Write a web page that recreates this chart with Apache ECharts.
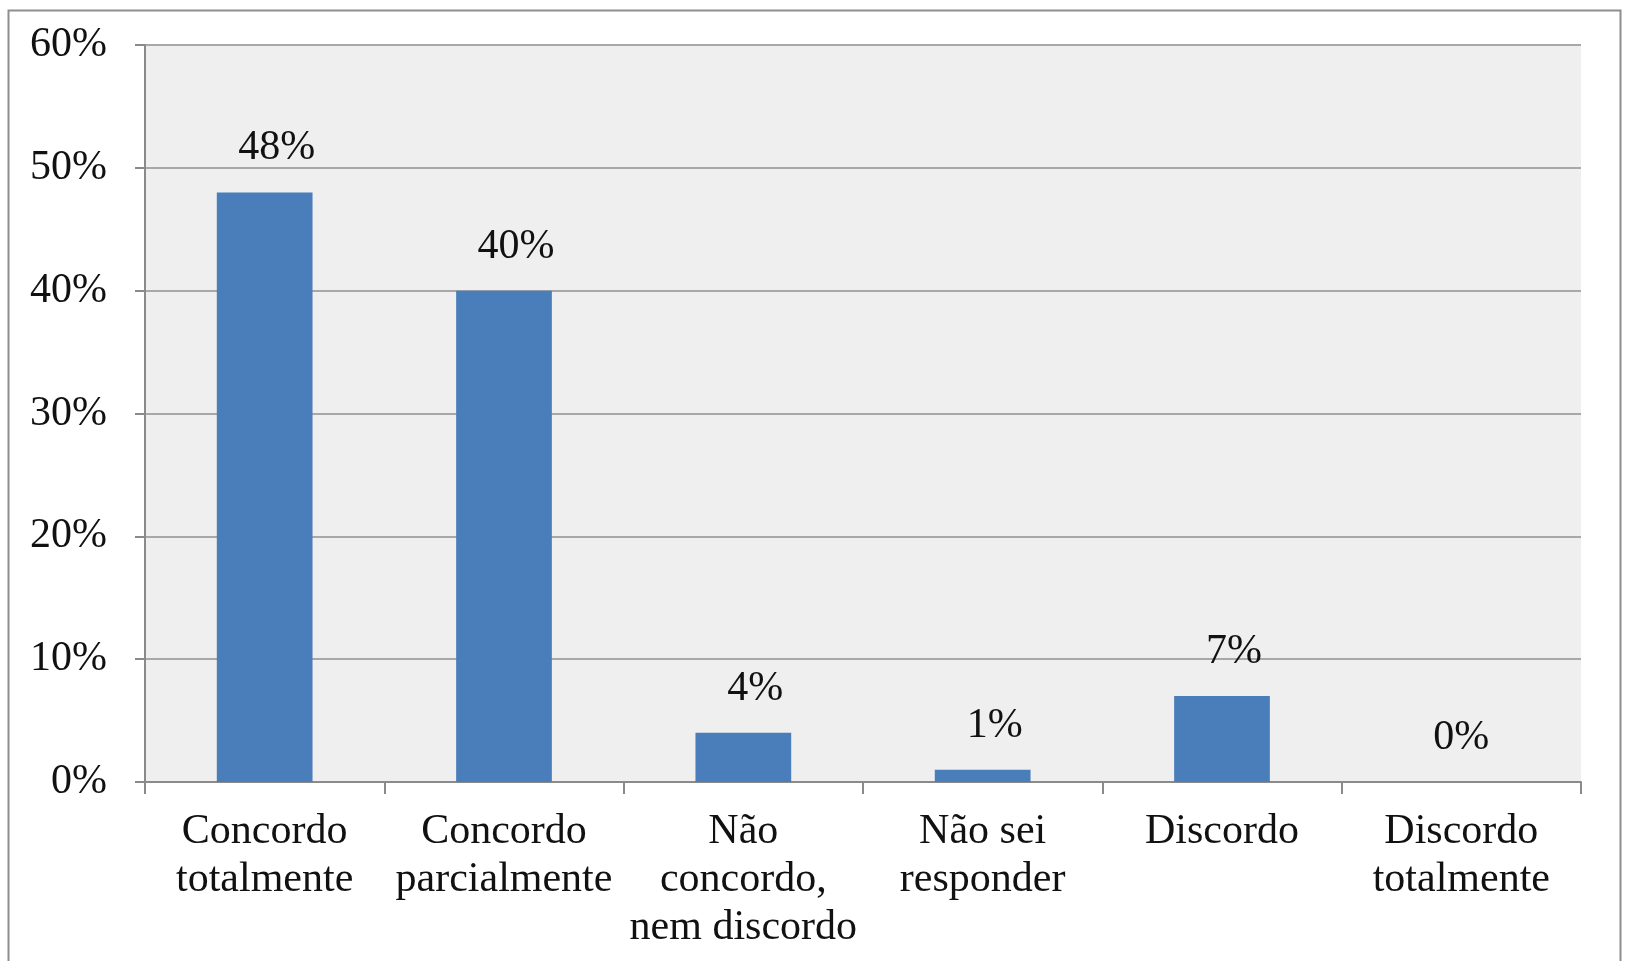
<!DOCTYPE html>
<html>
<head>
<meta charset="utf-8">
<title>Concordância</title>
<script src="https://cdn.jsdelivr.net/npm/echarts@6/dist/echarts.min.js"></script>
<style>
  html, body { margin: 0; padding: 0; background: #ffffff; }
  #chart { width: 1629px; height: 961px; }
</style>
</head>
<body>
<div id="chart"></div>
<script>
// Response categories (x axis)
const categories = [
  'Concordo\ntotalmente',
  'Concordo\nparcialmente',
  'Não\nconcordo,\nnem discordo',
  'Não sei\nresponder',
  'Discordo',
  'Discordo\ntotalmente'
];

// Share of answers, in percent
const percentages = [48, 40, 4, 1, 7, 0];

// Value axis range and step, in percent
const yMin = 0;
const yMax = 60;
const yStep = 10;

const FONT = '"Liberation Serif", "Times New Roman", serif';
const FONT_SIZE = 42;
const BAR_BLUE = '#4a7ebb';

// Value labels sit slightly right of the bar centre; the empty category keeps its label centred
const barData = percentages.map(v => (
  v === 0
    ? { value: v, label: { offset: [0, 0] } }
    : { value: v }
));

const chart = echarts.init(document.getElementById('chart'));

chart.setOption({
  animation: false,
  backgroundColor: '#ffffff',
  graphic: [{
    type: 'rect',
    silent: true,
    z: -10,
    shape: { x: 8.5, y: 10.5, width: 1612, height: 1000 },
    style: { fill: 'none', stroke: '#8e8e8e', lineWidth: 2 }
  }],
  grid: {
    left: 145,
    right: 48,
    top: 45,
    bottom: 179,
    show: true,
    backgroundColor: '#efefef',
    borderWidth: 0
  },
  xAxis: {
    type: 'category',
    data: categories,
    axisLine: { show: true, lineStyle: { color: '#8a8a8a', width: 2 } },
    axisTick: { show: true, length: 12, lineStyle: { color: '#8a8a8a', width: 2 } },
    axisLabel: {
      interval: 0,
      margin: 26,
      color: '#111111',
      fontFamily: FONT,
      fontSize: FONT_SIZE,
      lineHeight: 48
    }
  },
  yAxis: {
    type: 'value',
    min: yMin,
    max: yMax,
    interval: yStep,
    axisLine: { show: true, lineStyle: { color: '#8a8a8a', width: 2 } },
    axisTick: { show: true, length: 10, lineStyle: { color: '#8a8a8a', width: 2 } },
    splitLine: { show: true, lineStyle: { color: '#a8a8a8', width: 2 } },
    axisLabel: {
      margin: 38,
      color: '#111111',
      fontFamily: FONT,
      fontSize: FONT_SIZE,
      formatter: '{value}%'
    }
  },
  series: [{
    type: 'bar',
    data: barData,
    barWidth: '40%',
    itemStyle: { color: BAR_BLUE },
    label: {
      show: true,
      position: 'top',
      distance: 23,
      offset: [12, 0],
      color: '#111111',
      fontFamily: FONT,
      fontSize: FONT_SIZE,
      lineHeight: 42,
      formatter: '{c}%'
    }
  }]
});
</script>
</body>
</html>
